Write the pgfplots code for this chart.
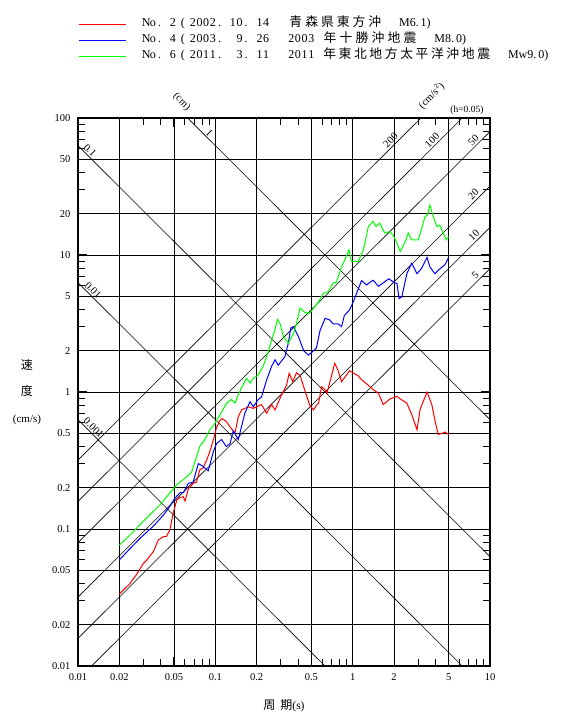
\documentclass[border=0pt]{standalone}
\usepackage{fontspec}
\setmainfont{Liberation Serif}
\newfontfamily\jp{Noto Sans CJK JP}
\usepackage{pgfplots}
\pgfplotsset{compat=1.18}

\protected\def\spc#1#2{\def\spcw{#1}\spci#2\relax}
\def\spci#1{\ifx#1\relax\else\makebox[\spcw]{#1}\expandafter\spci\fi}
\newcommand\jpl{\fontsize{12.8}{14}\jp}

\newcommand\legA{\hspace{16.7pt}\spc{6.67pt}{No.~2}\makebox[13.3pt]{(}\spc{6.67pt}{2002.~10.~14}\hspace{18.4pt}{\jpl\spc{15.8pt}{青森県東方沖}}\hspace{16.3pt}M6.\,1)}
\newcommand\legB{\hspace{16.7pt}\spc{6.67pt}{No.~4}\makebox[13.3pt]{(}\spc{6.67pt}{2003.~~9.~26}\hspace{18.4pt}\spc{6.67pt}{2003}\hspace{7.3pt}{\jpl\spc{16pt}{年十勝沖地震}}\hspace{16.5pt}M8.\,0)}
\newcommand\legC{\hspace{16.7pt}\spc{6.67pt}{No.~6}\makebox[13.3pt]{(}\spc{6.67pt}{2011.~~3.~11}\hspace{18.4pt}\spc{6.67pt}{2011}\hspace{7.3pt}{\jpl\spc{15.4pt}{年東北地方太平洋沖地震}}\hspace{16.7pt}Mw9.\,0)}

\begin{document}
\begin{tikzpicture}
\useasboundingbox (-78pt,-49pt) rectangle (483pt,666pt);
\begin{axis}[
  at={(0,0)}, anchor=south west,
  scale only axis, width=412pt, height=548pt,
  xmode=log, ymode=log,
  xmin=0.01, xmax=10, ymin=0.01, ymax=100,
  clip=false,
  xtick={0.01,0.02,0.05,0.1,0.2,0.5,1,2,5,10},
  xticklabels={0.01,0.02,0.05,0.1,0.2,0.5,1,2,5,10},
  ytick={0.01,0.02,0.05,0.1,0.2,0.5,1,2,5,10,20,50,100},
  yticklabels={0.01,0.02,0.05,0.1,0.2,0.5,1,2,5,10,20,50,100},
  minor xtick={0.03,0.04,0.06,0.07,0.08,0.09,0.3,0.4,0.6,0.7,0.8,0.9,3,4,6,7,8,9},
  minor ytick={0.03,0.04,0.06,0.07,0.08,0.09,0.3,0.4,0.6,0.7,0.8,0.9,3,4,6,7,8,9,30,40,60,70,80,90},
  grid=major,
  major grid style={black, line width=0.75pt},
  tick align=inside,
  major tick length=9pt, minor tick length=7pt,
  every tick/.style={black, line width=1pt},
  axis line style={line width=1.6pt},
  xticklabel pos=lower, yticklabel pos=left,
  xticklabel style={font=\fontsize{10.5}{12}\selectfont, yshift=-4pt},
  yticklabel style={font=\fontsize{10.5}{12}\selectfont, xshift=-4pt},
  legend style={draw=none, fill=none, at={(0,1.0975)}, anchor=south west,
    inner xsep=0pt, inner ysep=0pt, row sep=0pt,
    font=\fontsize{12}{14}\selectfont,
    nodes={inner xsep=0pt, inner ysep=0pt, text height=10pt, text depth=6pt}},
  legend cell align=left,
  legend image code/.code={\draw[#1, line width=1pt] (0pt,0pt) -- (47pt,0pt);},
]
% displacement lines (cm)
\addplot[black, line width=0.6pt, forget plot] coordinates {(0.01,0.6283) (0.6283,0.01)};
\addplot[black, line width=0.6pt, forget plot] coordinates {(0.01,6.283) (6.283,0.01)};
\addplot[black, line width=0.6pt, forget plot] coordinates {(0.01,62.83) (10,0.06283)};
\addplot[black, line width=0.6pt, forget plot] coordinates {(0.06283,100) (10,0.6283)};
% acceleration lines (cm/s^2)
\addplot[black, line width=0.6pt, forget plot] coordinates {(0.012566,0.01) (10,7.958)};
\addplot[black, line width=0.6pt, forget plot] coordinates {(0.01,0.015915) (10,15.915)};
\addplot[black, line width=0.6pt, forget plot] coordinates {(0.01,0.03183) (10,31.83)};
\addplot[black, line width=0.6pt, forget plot] coordinates {(0.01,0.07958) (10,79.58)};
\addplot[black, line width=0.6pt, forget plot] coordinates {(0.01,0.15915) (6.283,100)};
\addplot[black, line width=0.6pt, forget plot] coordinates {(0.01,0.3183) (3.1416,100)};

% No.2
\addplot[color={rgb,255:red,255;green,0;blue,0}, line width=1pt] coordinates {
(0.0200,0.0335) (0.0239,0.0400) (0.0268,0.0468) (0.0299,0.0560) (0.0316,0.0592)
(0.0354,0.0684) (0.0385,0.0832) (0.0418,0.0878) (0.0442,0.0885) (0.0467,0.099)
(0.0494,0.131) (0.0524,0.163) (0.0553,0.170) (0.0585,0.172) (0.0602,0.160)
(0.0636,0.196) (0.069,0.215) (0.073,0.22) (0.077,0.27) (0.0816,0.28)
(0.0866,0.32) (0.0913,0.37) (0.097,0.45) (0.102,0.55) (0.108,0.62)
(0.112,0.64) (0.120,0.61) (0.131,0.54) (0.139,0.50) (0.147,0.66)
(0.155,0.74) (0.174,0.78) (0.189,0.76) (0.217,0.81) (0.236,0.70)
(0.257,0.81) (0.272,0.74) (0.303,0.95) (0.330,1.12) (0.345,1.37)
(0.366,1.19) (0.390,1.38) (0.414,1.32) (0.460,0.95) (0.487,0.80)
(0.519,0.74) (0.545,0.80) (0.565,0.83) (0.594,1.09) (0.625,1.05)
(0.65,0.98) (0.70,1.30) (0.74,1.62) (0.78,1.45) (0.83,1.19)
(0.95,1.43) (1.10,1.31) (1.16,1.23) (1.30,1.12) (1.41,1.04)
(1.54,0.98) (1.67,0.81) (1.72,0.83) (1.87,0.89) (2.1,0.93)
(2.22,0.89) (2.48,0.83) (2.7,0.68) (2.94,0.53) (3.1,0.75)
(3.48,1.00) (3.77,0.81) (4.0,0.60) (4.2,0.49) (4.5,0.50) (4.7,0.51) (5.0,0.49)
};
\addlegendentry{\legA}
% No.4
\addplot[color={rgb,255:red,0;green,0;blue,255}, line width=1pt] coordinates {
(0.0200,0.0594) (0.0239,0.0719) (0.0283,0.0855) (0.0354,0.105) (0.0418,0.126)
(0.0455,0.141) (0.0508,0.168) (0.0553,0.184) (0.0585,0.184) (0.0636,0.215)
(0.069,0.22) (0.0752,0.30) (0.080,0.29) (0.0888,0.266) (0.097,0.37)
(0.102,0.42) (0.108,0.44) (0.111,0.45) (0.120,0.40) (0.128,0.42)
(0.135,0.52) (0.147,0.45) (0.164,0.70) (0.179,0.85) (0.189,0.78)
(0.205,0.88) (0.217,0.92) (0.236,1.22) (0.257,1.54) (0.272,1.72)
(0.287,1.57) (0.321,1.81) (0.340,2.27) (0.354,2.93) (0.370,3.0)
(0.402,2.55) (0.44,2.0) (0.476,1.86) (0.519,2.0) (0.545,2.1)
(0.578,2.8) (0.63,3.45) (0.68,3.36) (0.72,3.14) (0.785,3.14)
(0.83,3.0) (0.87,3.62) (0.95,3.98) (1.01,4.55) (1.07,5.26)
(1.16,6.5) (1.26,6.05) (1.41,6.55) (1.54,5.9) (1.83,6.7)
(2.04,6.25) (2.1,6.2) (2.18,4.8) (2.28,4.95) (2.48,7.3)
(2.69,8.7) (2.94,7.3) (3.18,8.0) (3.48,9.6) (3.65,8.2)
(3.97,7.3) (4.3,7.9) (4.7,8.5) (5.0,9.6)
};
\addlegendentry{\legB}
% No.6
\addplot[color={rgb,255:red,0;green,255;blue,0}, line width=1pt] coordinates {
(0.0200,0.0764) (0.0239,0.0903) (0.0299,0.114) (0.0395,0.150) (0.0455,0.178)
(0.0524,0.21) (0.0602,0.235) (0.0672,0.26) (0.0752,0.37) (0.077,0.40)
(0.084,0.45) (0.091,0.53) (0.097,0.57) (0.108,0.68) (0.121,0.83)
(0.131,0.88) (0.139,0.83) (0.147,0.95) (0.155,1.07) (0.169,1.26)
(0.179,1.16) (0.189,1.26) (0.205,1.33) (0.223,1.54) (0.242,1.94)
(0.257,2.4) (0.272,2.85) (0.283,3.39) (0.296,3.16) (0.313,2.55)
(0.34,2.27) (0.37,2.66) (0.39,3.16) (0.414,4.1) (0.45,3.8)
(0.487,3.75) (0.519,4.1) (0.565,4.55) (0.612,5.26) (0.664,5.4)
(0.72,6.25) (0.76,6.3) (0.83,8.2) (0.90,9.75) (0.94,10.9)
(0.98,8.95) (1.10,9.0) (1.2,11.0) (1.30,16.1) (1.41,17.6)
(1.48,16.1) (1.57,17.1) (1.71,14.5) (1.85,14.8) (1.97,14.0)
(2.1,12.2) (2.22,10.6) (2.42,12.5) (2.54,14.5) (2.69,12.9)
(3.0,12.9) (3.18,15.6) (3.36,19.0) (3.5,19.6) (3.65,23.2)
(3.86,19.0) (4.12,16.1) (4.3,16.5) (4.8,12.9) (5.0,13.6)
};
\addlegendentry{\legC}

% line labels
\begin{scope}[font=\fontsize{10.5}{12}\selectfont]
\node[rotate=-45, anchor=south, inner sep=1.5pt] at (axis cs:0.0115,54.6) {0.1};
\node[rotate=-45, anchor=south, inner sep=1.5pt] at (axis cs:0.01208,5.20) {0.01};
\node[rotate=-45, anchor=south, inner sep=1.5pt] at (axis cs:0.01222,0.514) {0.001};
\node[rotate=-45, anchor=south, inner sep=1.5pt] at (axis cs:0.0851,73.8) {1};
\node[rotate=-45, inner sep=0pt] at (axis cs:0.0569,131.5) {(cm)};
\node[rotate=45, anchor=south, inner sep=2pt] at (axis cs:2.02,64.3) {200};
\node[rotate=45, anchor=south, inner sep=2pt] at (axis cs:4.05,64.5) {100};
\node[rotate=45, anchor=south, inner sep=2pt] at (axis cs:8.12,64.6) {50};
\node[rotate=45, anchor=south, inner sep=2pt] at (axis cs:8.09,25.8) {20};
\node[rotate=45, anchor=south, inner sep=2pt] at (axis cs:8.18,13.0) {10};
\node[rotate=45, anchor=south, inner sep=2pt] at (axis cs:8.36,6.65) {5};
\node[rotate=45, inner sep=0pt] at (axis cs:3.75,145) {(cm/s$^2$)};
\end{scope}
\node[font=\fontsize{9.5}{11}\selectfont, inner sep=0pt] at (axis cs:6.8,113.5) {(h=0.05)};
% axis labels
\node[align=center, font=\fontsize{11}{26.5}\selectfont] at (rel axis cs:0,0.5) [xshift=-51pt] {{\fontsize{12}{26.5}\jp 速}\\{\fontsize{12}{26.5}\jp 度}\\(cm/s)};
\node[font=\fontsize{11.5}{13}\selectfont] at (rel axis cs:0.5,0) [yshift=-40pt] {{\fontsize{12}{13}\jp 周\hspace{5pt}期}(s)};
\end{axis}
\end{tikzpicture}
\end{document}
